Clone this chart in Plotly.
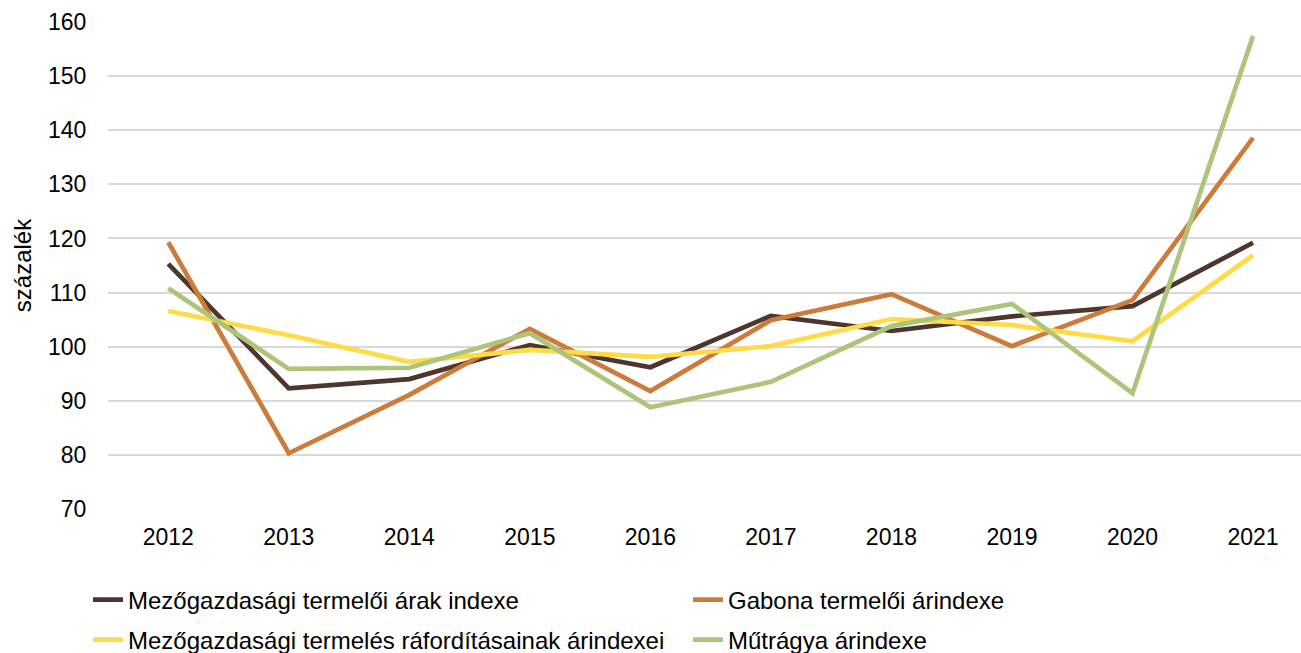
import plotly.graph_objects as go

years = ['2012', '2013', '2014', '2015', '2016', '2017', '2018', '2019', '2020', '2021']

termeloi_arak = [115.3, 92.3, 94.0, 100.3, 96.2, 105.7, 102.9, 105.6, 107.5, 119.2]
gabona = [119.3, 80.3, 91.1, 103.3, 91.8, 104.9, 109.7, 100.1, 108.6, 138.6]
raforditas = [106.6, 102.1, 97.2, 99.4, 98.1, 100.1, 105.1, 104.0, 101.0, 116.9]
mutragya = [110.8, 95.9, 96.1, 102.5, 88.8, 93.5, 103.8, 107.9, 91.4, 157.4]

names = ['Mezőgazdasági termelői árak indexe',
         'Gabona termelői árindexe',
         'Mezőgazdasági termelés ráfordításainak árindexei',
         'Műtrágya árindexe']
colors = ['#4E362E', '#CD7B3B', '#FFDB47', '#ADC47B']
series = [termeloi_arak, gabona, raforditas, mutragya]
legend_ids = ['legend', 'legend', 'legend2', 'legend2']

font = 'Liberation Sans, Arial, sans-serif'

fig = go.Figure()
for i in range(len(series)):
    fig.add_trace(go.Scatter(
        x=years,
        y=series[i],
        mode='lines',
        name=names[i],
        line=dict(color=colors[i], width=4.7),
        legend=legend_ids[i],
    ))

# plot area: x 108..1301, y 22..509
leg = dict(
    orientation='h',
    xanchor='left', yanchor='middle',
    x=(88 - 108) / 1193,
    entrywidthmode='pixels', entrywidth=555,
    font=dict(family=font, size=24, color='#000000'),
    bgcolor='rgba(0,0,0,0)',
)

fig.update_layout(
    width=1301, height=653,
    margin=dict(l=108, r=0, t=22, b=144, autoexpand=False),
    paper_bgcolor='white', plot_bgcolor='white',
    font=dict(family=font, size=23, color='#000000'),
    showlegend=True,
    legend=dict(leg, y=-(600 - 509) / 487),
    legend2=dict(leg, y=-(640 - 509) / 487),
    xaxis=dict(
        type='category',
        range=[-0.5, 9.398],
        showgrid=False, zeroline=False, showline=False,
        ticks='outside', ticklen=7, tickcolor='rgba(0,0,0,0)',
        tickfont=dict(family=font, size=23, color='#000000'),
    ),
    yaxis=dict(
        range=[70, 160],
        dtick=10,
        showgrid=True, gridcolor='#D9D9D9', gridwidth=2,
        zeroline=False, showline=False,
        ticks='outside', ticklen=16, tickcolor='rgba(0,0,0,0)',
        tickfont=dict(family=font, size=23, color='#000000'),
        title=dict(text='százalék', standoff=9,
                   font=dict(family=font, size=24, color='#000000')),
    ),
)

fig.write_html('out.html', config={'displayModeBar': False},
               post_script="document.body.style.margin='0';")
